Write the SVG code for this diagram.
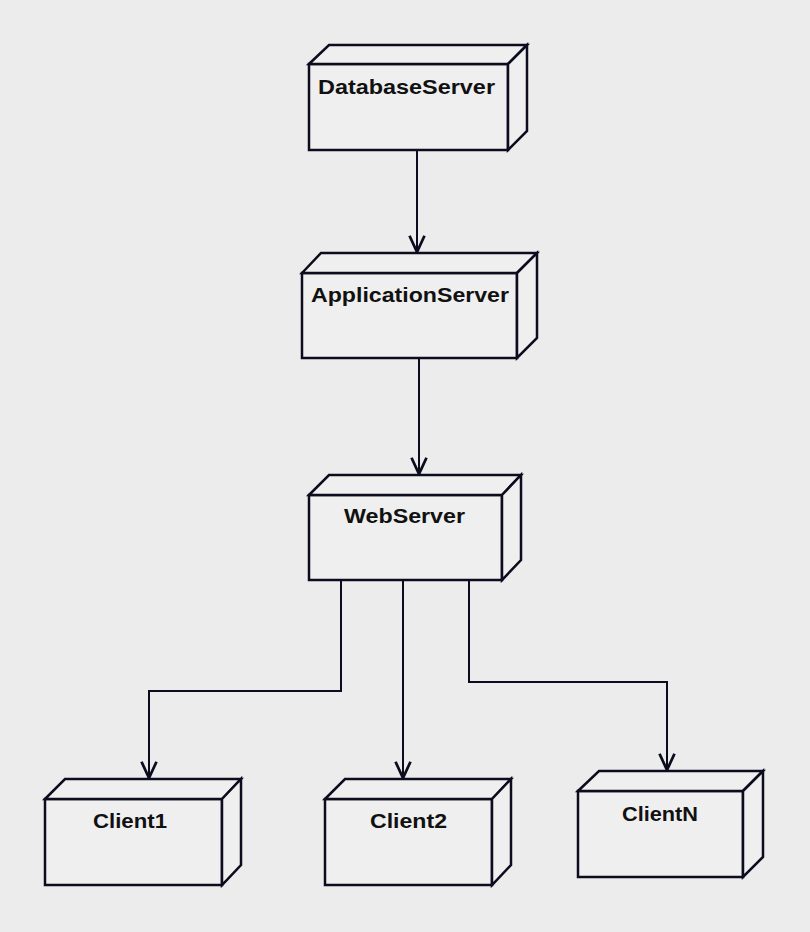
<svg xmlns="http://www.w3.org/2000/svg" width="810" height="932" viewBox="0 0 810 932">
<style>
.bg{fill:#ececec}
.box path{fill:#efefef;stroke:#0c0c1e;stroke-width:2.5;stroke-linejoin:miter}
.box text{font-family:"Liberation Sans",Arial,sans-serif;font-weight:bold;font-size:21px;fill:#111}
.conn path{fill:none;stroke:#0c0c1e;stroke-width:2}
</style>
<defs>
<marker id="arr" markerUnits="userSpaceOnUse" markerWidth="20" markerHeight="20" viewBox="-14 -8 16 16" refX="0" refY="0" orient="auto">
<path d="M-13,-6 L0,0 L-13,6" fill="none" stroke="#0c0c1e" stroke-width="2.2"/>
</marker>
</defs>
<rect class="bg" x="0" y="0" width="810" height="932"/>

<g class="conn" id="connectors">
<path d="M417,150 V252" marker-end="url(#arr)"/>
<path d="M419,358 V474" marker-end="url(#arr)"/>
<path d="M341,580 V691 H149 V778" marker-end="url(#arr)"/>
<path d="M403,580 V778" marker-end="url(#arr)"/>
<path d="M469,580 V682 H667 V770" marker-end="url(#arr)"/>
</g>

<g class="box" id="DatabaseServer">
<path d="M309,64 H508 V150 H309 Z"/>
<path d="M309,64 L329,45 H527 L508,64 Z"/>
<path d="M508,64 L527,45 V131 L508,150 Z"/>
<text x="318" y="94" textLength="177" lengthAdjust="spacingAndGlyphs">DatabaseServer</text>
</g>

<g class="box" id="ApplicationServer">
<path d="M302,273 H517 V358 H302 Z"/>
<path d="M302,273 L321,253 H537 L517,273 Z"/>
<path d="M517,273 L537,253 V338 L517,358 Z"/>
<text x="311" y="302" textLength="198" lengthAdjust="spacingAndGlyphs">ApplicationServer</text>
</g>

<g class="box" id="WebServer">
<path d="M309,495 H502 V580 H309 Z"/>
<path d="M309,495 L329,475 H521 L502,495 Z"/>
<path d="M502,495 L521,475 V560 L502,580 Z"/>
<text x="344" y="523" textLength="121" lengthAdjust="spacingAndGlyphs">WebServer</text>
</g>

<g class="box" id="Client1">
<path d="M45,799 H222 V885 H45 Z"/>
<path d="M45,799 L65,779 H241 L222,799 Z"/>
<path d="M222,799 L241,779 V865 L222,885 Z"/>
<text x="93" y="828" textLength="74" lengthAdjust="spacingAndGlyphs">Client1</text>
</g>

<g class="box" id="Client2">
<path d="M325,799 H492 V885 H325 Z"/>
<path d="M325,799 L345,779 H511 L492,799 Z"/>
<path d="M492,799 L511,779 V865 L492,885 Z"/>
<text x="370" y="828" textLength="77" lengthAdjust="spacingAndGlyphs">Client2</text>
</g>

<g class="box" id="ClientN">
<path d="M578,791 H743 V877 H578 Z"/>
<path d="M578,791 L599,771 H763 L743,791 Z"/>
<path d="M743,791 L763,771 V857 L743,877 Z"/>
<text x="622" y="821" textLength="76" lengthAdjust="spacingAndGlyphs">ClientN</text>
</g>
</svg>
